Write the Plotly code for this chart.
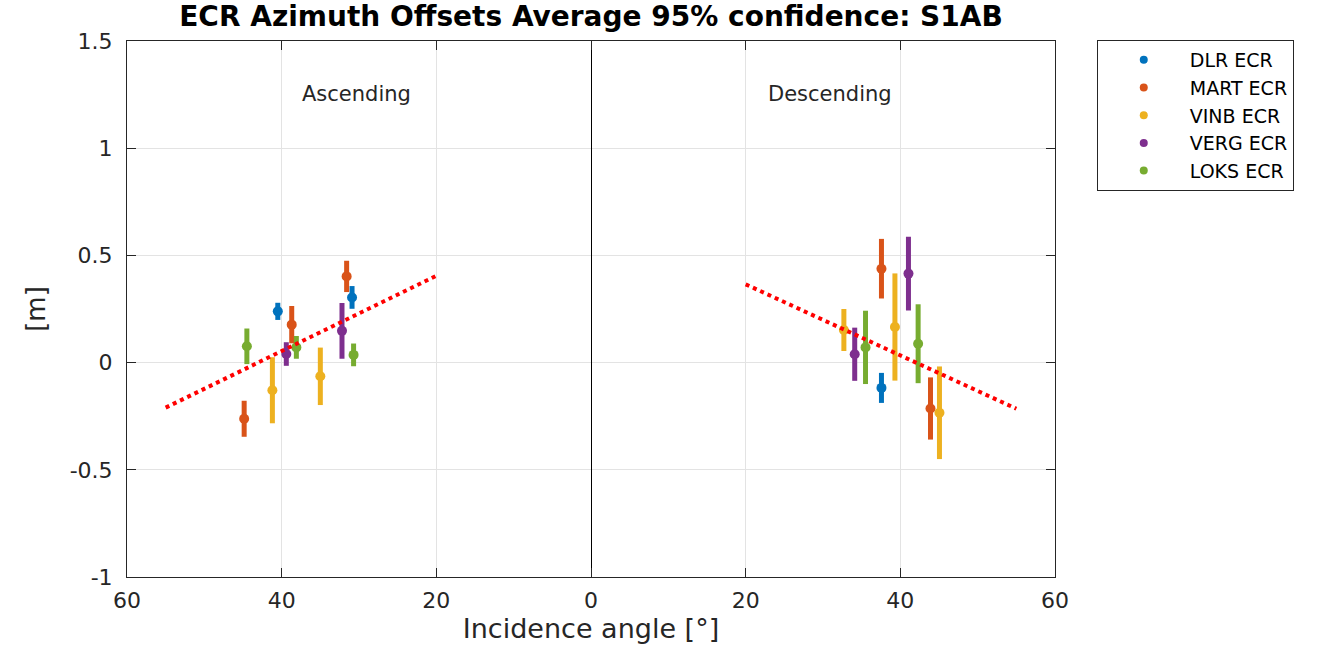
import plotly.graph_objects as go

# Station colours (MATLAB default order)
stations = ["DLR ECR", "MART ECR", "VINB ECR", "VERG ECR", "LOKS ECR"]
colors = ["#0072BD", "#D95319", "#EDB120", "#7E2F8E", "#77AC30"]

# Ascending passes: incidence angle [deg], mean offset [m], 95% half-width [m]
asc_angle = {
    "DLR ECR": [40.5, 30.9],
    "MART ECR": [44.85, 38.7, 31.6],
    "VINB ECR": [41.2, 35.0],
    "VERG ECR": [39.4, 32.2],
    "LOKS ECR": [44.5, 38.1, 30.7],
}
asc_offset = {
    "DLR ECR": [0.239, 0.304],
    "MART ECR": [-0.262, 0.177, 0.402],
    "VINB ECR": [-0.129, -0.064],
    "VERG ECR": [0.040, 0.148],
    "LOKS ECR": [0.076, 0.071, 0.036],
}
asc_conf = {
    "DLR ECR": [0.040, 0.053],
    "MART ECR": [0.084, 0.087, 0.073],
    "VINB ECR": [0.154, 0.134],
    "VERG ECR": [0.055, 0.130],
    "LOKS ECR": [0.083, 0.053, 0.053],
}

# Descending passes
desc_angle = {
    "DLR ECR": [37.56],
    "MART ECR": [37.56, 43.9],
    "VINB ECR": [32.7, 39.3, 45.06],
    "VERG ECR": [34.1, 41.05],
    "LOKS ECR": [35.5, 42.3],
}
desc_offset = {
    "DLR ECR": [-0.118],
    "MART ECR": [0.438, -0.214],
    "VINB ECR": [0.152, 0.166, -0.234],
    "VERG ECR": [0.039, 0.415],
    "LOKS ECR": [0.071, 0.088],
}
desc_conf = {
    "DLR ECR": [0.070],
    "MART ECR": [0.139, 0.145],
    "VINB ECR": [0.098, 0.250, 0.216],
    "VERG ECR": [0.124, 0.172],
    "LOKS ECR": [0.171, 0.184],
}

# Linear trends (incidence angle, offset)
asc_fit_angle = [55, 20]
asc_fit_offset = [-0.210, 0.405]
desc_fit_angle = [20, 55]
desc_fit_offset = [0.365, -0.215]

x_ticks = [-60, -40, -20, 0, 20, 40, 60]
x_tick_labels = ["60", "40", "20", "0", "20", "40", "60"]
y_ticks = [-1, -0.5, 0, 0.5, 1, 1.5]
y_tick_labels = ["-1", "-0.5", "0", "0.5", "1", "1.5"]

FONT = "DejaVu Sans"
fig = go.Figure()

for name, col in zip(stations, colors):
    # ascending side is drawn mirrored to negative x
    xs = [-a for a in asc_angle[name]] + [None] + desc_angle[name]
    ys = asc_offset[name] + [None] + desc_offset[name]
    es = asc_conf[name] + [0] + desc_conf[name]
    fig.add_trace(go.Scatter(
        x=xs, y=ys, mode="markers", name=name, showlegend=False,
        marker=dict(color=col, size=10),
        error_y=dict(type="data", array=es, visible=True, color=col,
                     thickness=5, width=0),
    ))

for name, col in zip(stations, colors):
    fig.add_trace(go.Scatter(
        x=[None], y=[None], mode="markers", name=name,
        marker=dict(color=col, size=8),
    ))

fig.add_trace(go.Scatter(
    x=[-a for a in asc_fit_angle], y=asc_fit_offset, mode="lines",
    line=dict(color="#FF0000", width=4, dash="dot"), showlegend=False,
))
fig.add_trace(go.Scatter(
    x=desc_fit_angle, y=desc_fit_offset, mode="lines",
    line=dict(color="#FF0000", width=4, dash="dot"), showlegend=False,
))

fig.add_annotation(x=-30.3, y=1.253, text="Ascending", showarrow=False,
                   font=dict(family=FONT, size=21, color="#262626"))
fig.add_annotation(x=30.9, y=1.253, text="Descending", showarrow=False,
                   font=dict(family=FONT, size=21, color="#262626"))

fig.update_layout(
    width=1329, height=647,
    margin=dict(l=127, r=274, t=41, b=70),
    plot_bgcolor="white", paper_bgcolor="white",
    font=dict(family=FONT, color="#262626"),
    title=dict(text="<b>ECR Azimuth Offsets Average 95% confidence: S1AB</b>",
               x=(127 + 1055) / 2 / 1329, xanchor="center", y=0.99, yanchor="top",
               font=dict(family=FONT, size=28, color="black")),
    legend=dict(x=1.045, y=1.002, xanchor="left", yanchor="top",
                bordercolor="#262626", borderwidth=1, bgcolor="white",
                font=dict(family=FONT, size=19, color="black"),
                itemwidth=82, tracegroupgap=0),
    showlegend=True,
)
fig.update_xaxes(
    range=[-60, 60], tickvals=x_ticks, ticktext=x_tick_labels, automargin=False,
    showgrid=True, gridcolor="#e3e3e3", gridwidth=1,
    zeroline=True, zerolinecolor="black", zerolinewidth=1,
    showline=True, linecolor="#262626", linewidth=1, mirror="allticks",
    ticks="inside", ticklen=9, tickcolor="#262626", ticklabelstandoff=4,
    tickfont=dict(family=FONT, size=22, color="#262626"),
    title=dict(text="Incidence angle [°]", font=dict(family=FONT, size=27, color="#262626"),
               standoff=6),
)
fig.update_yaxes(
    range=[-1, 1.5], tickvals=y_ticks, ticktext=y_tick_labels, automargin=False,
    showgrid=True, gridcolor="#e3e3e3", gridwidth=1, zeroline=False,
    showline=True, linecolor="#262626", linewidth=1, mirror="allticks",
    ticks="inside", ticklen=9, tickcolor="#262626", ticklabelstandoff=9,
    tickfont=dict(family=FONT, size=22, color="#262626"),
    title=dict(text="[m]", font=dict(family=FONT, size=26, color="#262626"),
               standoff=16),
)

fig.write_html("out.html")
